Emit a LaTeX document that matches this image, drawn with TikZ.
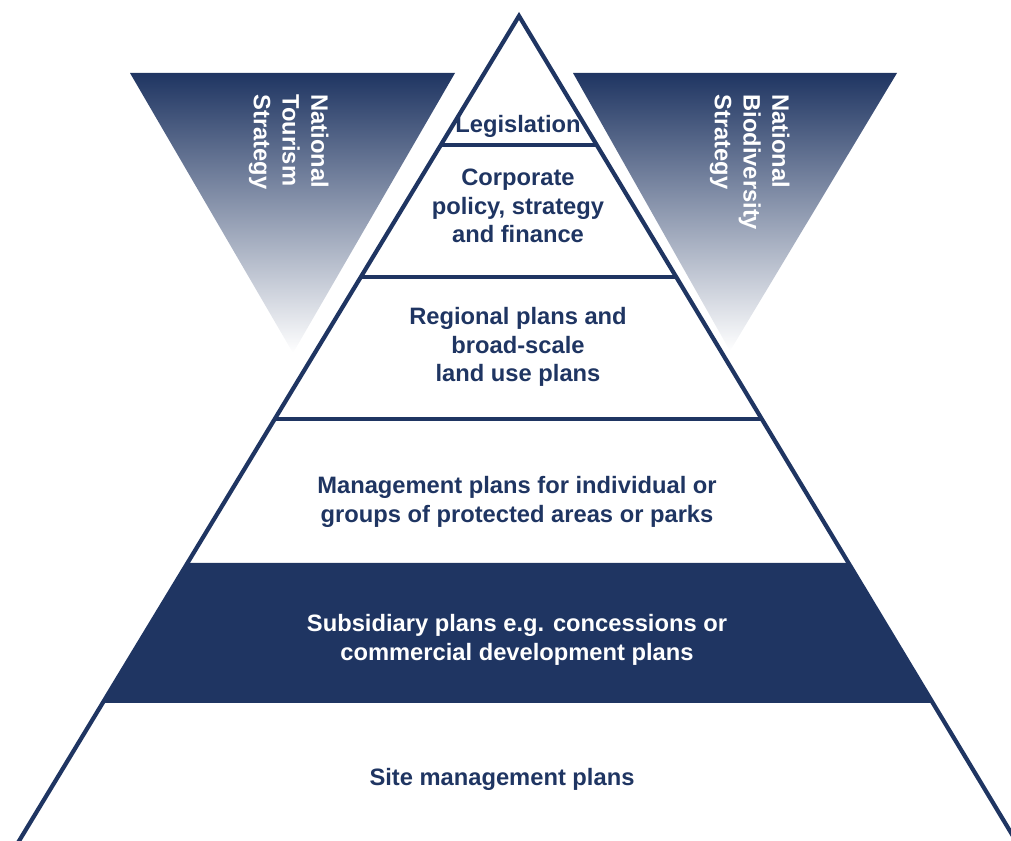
\documentclass[tikz,border=0pt]{standalone}
\usepackage{fontspec}
\setmainfont{Liberation Sans}
\usetikzlibrary{calc}
\definecolor{navy}{RGB}{31,53,98}
\tikzset{
  tier/.style={draw=navy, line width=2.4pt, line join=miter},
  tiertext/.style={text=navy, font=\fontsize{13.5}{16.4}\selectfont\bfseries, align=center},
  strategy/.style={text=white, font=\fontsize{13.5}{16.4}\selectfont\bfseries, align=left, rotate=-90, inner sep=0pt, anchor=north west},
  fade/.style={top color=navy, bottom color=white}
}
\begin{document}
\begin{tikzpicture}[x=0.02cm,y=-0.02cm]
\useasboundingbox (0,0) rectangle (1011,841);
\clip (0,0) rectangle (1011,841);
\coordinate (apex) at (519,16);
\coordinate (lbase) at (19,841);
\coordinate (rbase) at (1016,841);
% national strategies either side
\shade[fade] (130,73) -- (455,73) -- (293,353) -- cycle;
\shade[fade] (573,73) -- (897,73) -- (730,351) -- cycle;
\node[strategy] (tourism) at (329,94) {National\\Tourism\\Strategy};
\node[strategy] (biodiversity) at (790,94) {National\\Biodiversity\\Strategy};
% pyramid
\fill[navy] ($(apex)!0.663!(lbase)$) -- ($(apex)!0.663!(rbase)$) -- ($(apex)!0.8327!(rbase)$) -- ($(apex)!0.8327!(lbase)$) -- cycle;
\draw[tier] ($(apex)!1.05!(lbase)$) -- (apex) -- ($(apex)!1.05!(rbase)$);
\foreach \t in {0.1564,0.3164,0.4885}
  \draw[tier] ($(apex)!\t!(lbase)$) -- ($(apex)!\t!(rbase)$);
\node[tiertext] (legislation) at (518,126) {Legislation};
\node[tiertext] (corporate) at (518,206) {Corporate\\policy, strategy\\and finance};
\node[tiertext] (regional) at (518,347) {Regional plans and\\broad-scale\\land use plans};
\node[tiertext] (management) at (517,502) {Management plans for individual or\\groups of protected areas or parks};
\node[tiertext, text=white] (subsidiary) at (517,640) {Subsidiary plans e.g. concessions or\\commercial development plans};
\node[tiertext] (site) at (502,779) {Site management plans};
\end{tikzpicture}
\end{document}
